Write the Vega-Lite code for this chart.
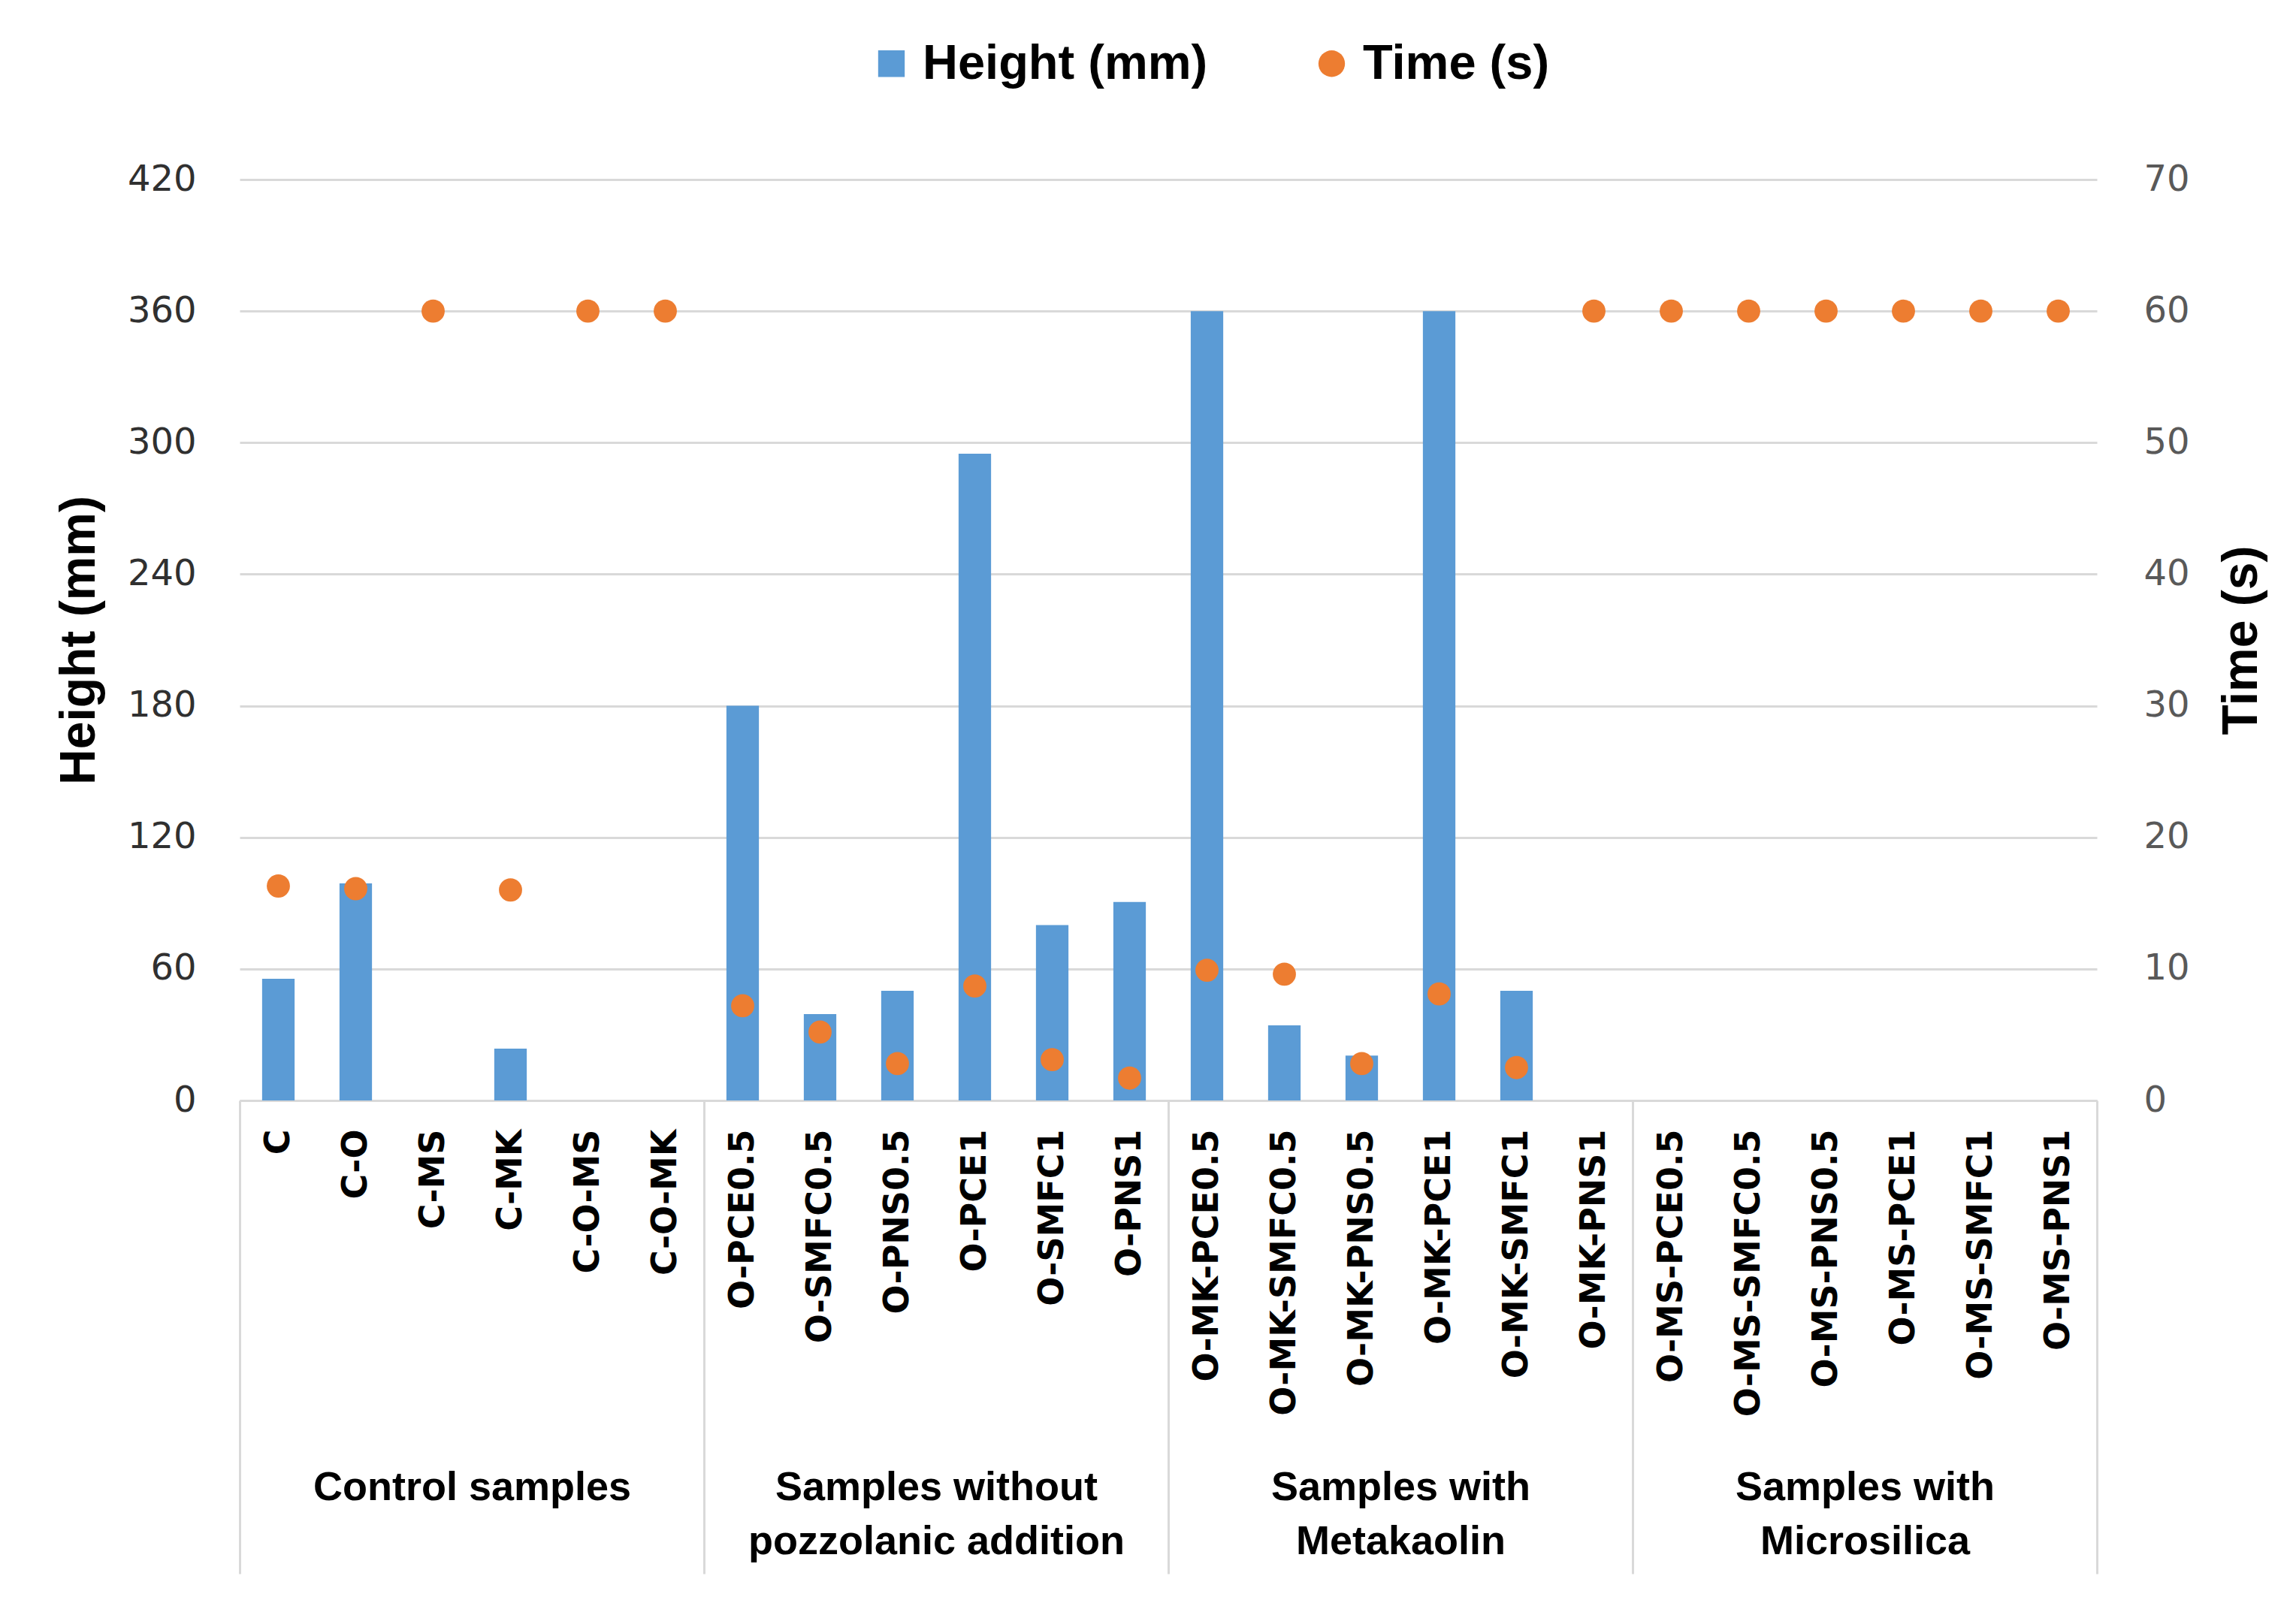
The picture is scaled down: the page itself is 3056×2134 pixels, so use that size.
{
  "$schema": "https://vega.github.io/schema/vega-lite/v6.json",
  "width": 2472,
  "height": 1226,
  "autosize": {"type": "none"},
  "padding": {"left": 319, "top": 239, "right": 265, "bottom": 669},
  "background": "white",
  "config": {
    "view": {"stroke": null},
    "font": "Liberation Sans",
    "legend": {
      "orient": "none",
      "legendX": 835,
      "legendY": -187,
      "direction": "horizontal",
      "title": null,
      "padding": 0,
      "symbolSize": 1250,
      "symbolStrokeWidth": 0,
      "labelFont": "Liberation Sans",
      "labelFontSize": 65,
      "labelFontWeight": "bold",
      "labelColor": "#000000",
      "labelOffset": 9,
      "columnPadding": 132,
      "labelLimit": 0
    }
  },
  "datasets": {
    "samples": [
      {"Sample": "C", "Height (mm)": 55.5, "Time (s)": 16.3},
      {"Sample": "C-O", "Height (mm)": 99, "Time (s)": 16.1},
      {"Sample": "C-MS", "Height (mm)": 0, "Time (s)": 60},
      {"Sample": "C-MK", "Height (mm)": 23.6, "Time (s)": 16.0},
      {"Sample": "C-O-MS", "Height (mm)": 0, "Time (s)": 60},
      {"Sample": "C-O-MK", "Height (mm)": 0, "Time (s)": 60},
      {"Sample": "O-PCE0.5", "Height (mm)": 180, "Time (s)": 7.2},
      {"Sample": "O-SMFC0.5", "Height (mm)": 39.4, "Time (s)": 5.2},
      {"Sample": "O-PNS0.5", "Height (mm)": 50, "Time (s)": 2.8},
      {"Sample": "O-PCE1", "Height (mm)": 295, "Time (s)": 8.7},
      {"Sample": "O-SMFC1", "Height (mm)": 80, "Time (s)": 3.1},
      {"Sample": "O-PNS1", "Height (mm)": 90.5, "Time (s)": 1.7},
      {"Sample": "O-MK-PCE0.5", "Height (mm)": 360, "Time (s)": 9.9},
      {"Sample": "O-MK-SMFC0.5", "Height (mm)": 34.3, "Time (s)": 9.6},
      {"Sample": "O-MK-PNS0.5", "Height (mm)": 20.5, "Time (s)": 2.8},
      {"Sample": "O-MK-PCE1", "Height (mm)": 360, "Time (s)": 8.1},
      {"Sample": "O-MK-SMFC1", "Height (mm)": 50, "Time (s)": 2.5},
      {"Sample": "O-MK-PNS1", "Height (mm)": 0, "Time (s)": 60},
      {"Sample": "O-MS-PCE0.5", "Height (mm)": 0, "Time (s)": 60},
      {"Sample": "O-MS-SMFC0.5", "Height (mm)": 0, "Time (s)": 60},
      {"Sample": "O-MS-PNS0.5", "Height (mm)": 0, "Time (s)": 60},
      {"Sample": "O-MS-PCE1", "Height (mm)": 0, "Time (s)": 60},
      {"Sample": "O-MS-SMFC1", "Height (mm)": 0, "Time (s)": 60},
      {"Sample": "O-MS-PNS1", "Height (mm)": 0, "Time (s)": 60}
    ],
    "groups": [
      {"pos": 0, "Group": ""},
      {"pos": 3, "Group": "Control samples"},
      {"pos": 6, "Group": ""},
      {"pos": 9, "Group": "Samples without pozzolanic addition"},
      {"pos": 12, "Group": ""},
      {"pos": 15, "Group": "Samples with Metakaolin"},
      {"pos": 18, "Group": ""},
      {"pos": 21, "Group": "Samples with Microsilica"},
      {"pos": 24, "Group": ""}
    ]
  },
  "layer": [
    {
      "data": {"name": "samples"},
      "transform": [{"fold": ["Height (mm)", "Time (s)"], "as": ["Series", "Value"]}],
      "encoding": {
        "x": {
          "field": "Sample",
          "type": "nominal",
          "sort": null,
          "scale": {"paddingInner": 0, "paddingOuter": 0},
          "axis": {
            "orient": "bottom",
            "title": null,
            "labelAngle": -90,
            "labelFont": "DejaVu Sans",
            "labelFontSize": 46,
            "labelFontWeight": "bold",
            "labelColor": "#000000",
            "labelPadding": 38,
            "labelLimit": 0,
            "ticks": false,
            "domain": true,
            "domainColor": "#d9d9d9",
            "domainWidth": 3,
            "grid": false
          }
        }
      },
      "layer": [
        {
          "transform": [{"filter": "datum.Series == 'Height (mm)'"}],
          "mark": {"type": "bar", "width": {"band": 0.42}},
          "encoding": {
            "y": {
              "field": "Value",
              "type": "quantitative",
              "scale": {"domain": [0, 420], "nice": false},
              "axis": {
                "orient": "left",
                "title": "Height (mm)",
                "titleFont": "Liberation Sans",
                "titleFontSize": 66,
                "titleFontWeight": "bold",
                "titleColor": "#000000",
                "titlePadding": 30,
                "values": [0, 60, 120, 180, 240, 300, 360, 420],
                "labelFont": "DejaVu Sans",
                "labelFontSize": 48,
                "labelColor": "#303030",
                "labelPadding": 58,
                "ticks": false,
                "domain": false,
                "grid": true,
                "gridColor": "#d9d9d9",
                "gridWidth": 3
              }
            },
            "color": {
              "field": "Series",
              "type": "nominal",
              "scale": {"domain": ["Height (mm)", "Time (s)"], "range": ["#5B9BD5", "#ED7D31"]}
            }
          }
        },
        {
          "transform": [{"filter": "datum.Series == 'Time (s)'"}],
          "mark": {"type": "point", "filled": true, "size": 950, "opacity": 1},
          "encoding": {
            "y": {
              "field": "Value",
              "type": "quantitative",
              "scale": {"domain": [0, 70], "nice": false},
              "axis": {
                "orient": "right",
                "title": "Time (s)",
                "titleAngle": 270,
                "titleBaseline": "top",
                "titleFont": "Liberation Sans",
                "titleFontSize": 66,
                "titleFontWeight": "bold",
                "titleColor": "#000000",
                "titlePadding": 37,
                "values": [0, 10, 20, 30, 40, 50, 60, 70],
                "labelFont": "DejaVu Sans",
                "labelFontSize": 48,
                "labelColor": "#595959",
                "labelPadding": 62,
                "ticks": false,
                "domain": false,
                "grid": false
              }
            },
            "color": {
              "field": "Series",
              "type": "nominal",
              "scale": {"domain": ["Height (mm)", "Time (s)"], "range": ["#5B9BD5", "#ED7D31"]}
            },
            "shape": {
              "field": "Series",
              "type": "nominal",
              "scale": {"domain": ["Height (mm)", "Time (s)"], "range": ["square", "circle"]}
            }
          }
        }
      ],
      "resolve": {"scale": {"y": "independent"}}
    },
    {
      "data": {"name": "groups"},
      "mark": {"type": "text", "text": " ", "opacity": 0},
      "encoding": {
        "x": {
          "field": "pos",
          "type": "quantitative",
          "scale": {"domain": [0, 24], "nice": false, "zero": false},
          "axis": {
            "orient": "bottom",
            "title": null,
            "values": [0, 3, 6, 9, 12, 15, 18, 21, 24],
            "domain": false,
            "grid": false,
            "ticks": true,
            "tickSize": 630,
            "tickWidth": 3,
            "tickColor": "#d9d9d9",
            "tickOpacity": {"condition": {"test": "indexof([0, 6, 12, 18, 24], datum.value) >= 0", "value": 1}, "value": 0},
            "labelExpr": "datum.value == 3 ? 'Control samples' : datum.value == 9 ? ['Samples without', 'pozzolanic addition'] : datum.value == 15 ? ['Samples with', 'Metakaolin'] : datum.value == 21 ? ['Samples with', 'Microsilica'] : ''",
            "labelAngle": 0,
            "labelAlign": "center",
            "labelBaseline": "top",
            "labelFont": "Liberation Sans",
            "labelFontSize": 54,
            "labelFontWeight": "bold",
            "labelColor": "#000000",
            "labelLineHeight": 72,
            "labelPadding": -142,
            "labelOverlap": false,
            "labelFlush": false,
            "labelLimit": 0
          }
        }
      }
    }
  ],
  "resolve": {"scale": {"x": "independent", "y": "independent"}}
}
